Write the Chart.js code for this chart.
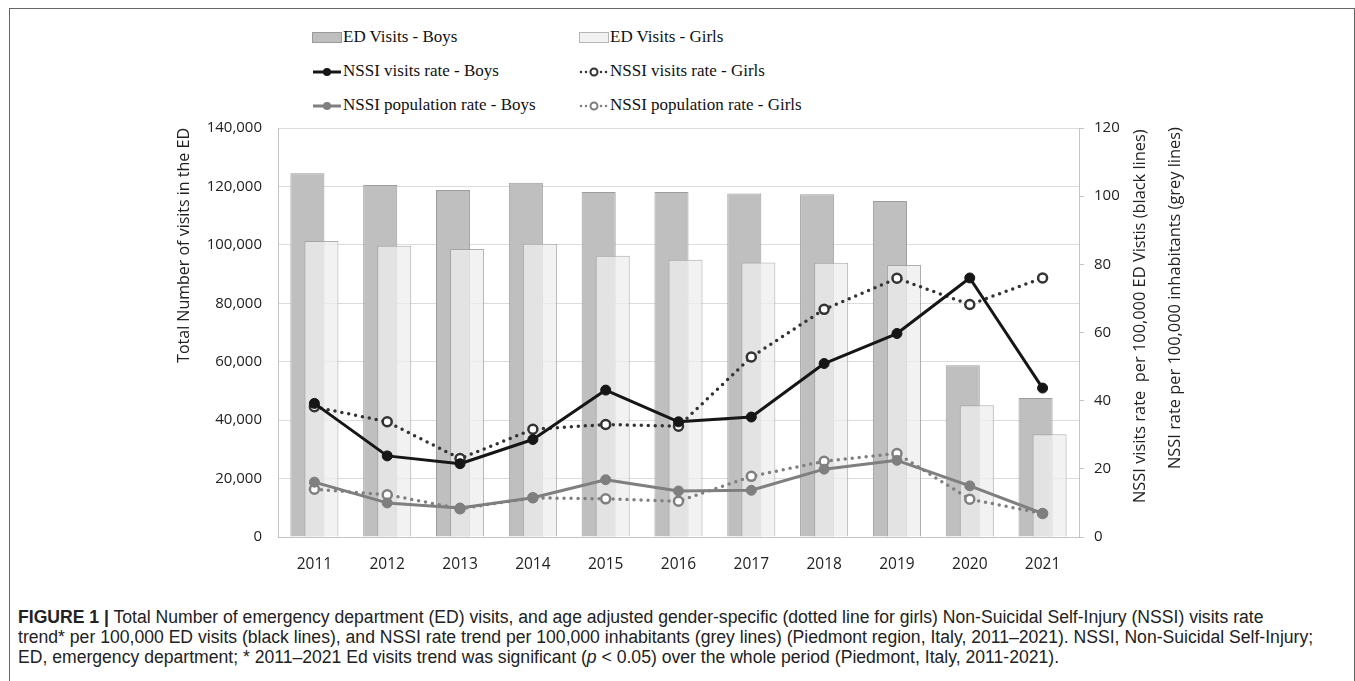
<!DOCTYPE html>
<html>
<head>
<meta charset="utf-8">
<script src="https://cdn.jsdelivr.net/npm/chart.js@4.4.1/dist/chart.umd.min.js"></script>
<style>
  body { margin: 0; background: #fff; width: 1355px; height: 681px; overflow: hidden; position: relative; font-family: "Open Sans", sans-serif; }
  #frame { position: absolute; left: 9px; top: 8px; width: 1344px; height: 700px; border: 1.5px solid #666; border-bottom: none; }
  #legend { position: absolute; left: 0; top: 0; width: 1355px; height: 120px; font-family: "Liberation Serif", serif; font-size: 17px; color: #111; }
  .item { position: absolute; height: 20px; line-height: 20px; white-space: nowrap; }
  .item svg { position: absolute; left: 0; top: 3px; }
  .item span { position: absolute; left: 31px; top: 0; }
  #box { position: absolute; left: 150px; top: 100px; width: 1100px; height: 490px; }
  #caption { position: absolute; left: 18px; top: 607px; font-family: "Liberation Sans", Arial, sans-serif; font-size: 17.6px; line-height: 20px; color: #222; white-space: nowrap; }
  #caption b { font-weight: bold; }
</style>
</head>
<body>
<div id="frame"></div>
<div id="legend"></div>
<div id="box"><canvas id="chart"></canvas></div>
<div id="caption"><b>FIGURE 1 |</b> Total Number of emergency department (ED) visits, and age adjusted gender-specific (dotted line for girls) Non-Suicidal Self-Injury (NSSI) visits rate<br>trend* per 100,000 ED visits (black lines), and NSSI rate trend per 100,000 inhabitants (grey lines) (Piedmont region, Italy, 2011–2021). NSSI, Non-Suicidal Self-Injury;<br>ED, emergency department; * 2011–2021 Ed visits trend was significant (<i>p</i> &lt; 0.05) over the whole period (Piedmont, Italy, 2011-2021).</div>
<script>
// data
const years = ['2011', '2012', '2013', '2014', '2015', '2016', '2017', '2018', '2019', '2020', '2021'];
const edBoys = [124500, 120500, 118800, 121300, 118100, 118100, 117600, 117300, 115000, 58800, 47600];
const edGirls = [101300, 99700, 98600, 100400, 96300, 94900, 94000, 93900, 93100, 45100, 35200];
const visitsBoys = [39.2, 23.8, 21.5, 28.6, 43.1, 33.8, 35.2, 50.9, 59.7, 76.0, 43.7];
const visitsGirls = [38.2, 33.8, 23.0, 31.6, 33.0, 32.5, 52.8, 66.8, 75.9, 68.2, 76.0];
const popBoys = [16.1, 10.0, 8.5, 11.5, 16.8, 13.5, 13.7, 19.9, 22.5, 15.0, 6.9];
const popGirls = [14.0, 12.4, 8.3, 11.5, 11.2, 10.5, 17.8, 22.2, 24.5, 11.1, 6.9];

const leftTitle = 'Total Number of visits in the ED';
const rightTitles = ['NSSI visits rate  per 100,000 ED Vistis (black lines)', 'NSSI rate per 100,000 inhabitants (grey lines)'];

const BLACK = '#161616';
const DARK = '#333333';
const GREY = '#7f7f7f';

// ---- legend (html) ----
const legendItems = [
    { text: 'ED Visits - Boys', kind: 'bar', fill: '#bfbfbf', stroke: '#9a9a9a', x: 312, y: 27 },
    { text: 'ED Visits - Girls', kind: 'bar', fill: '#f2f2f2', stroke: '#b5b5b5', x: 579, y: 27 },
    { text: 'NSSI visits rate - Boys', kind: 'line', color: BLACK, dotted: false, x: 312, y: 61 },
    { text: 'NSSI visits rate - Girls', kind: 'line', color: DARK, dotted: true, x: 579, y: 61 },
    { text: 'NSSI population rate - Boys', kind: 'line', color: GREY, dotted: false, x: 312, y: 95 },
    { text: 'NSSI population rate - Girls', kind: 'line', color: GREY, dotted: true, x: 579, y: 95 }
];
const legendEl = document.getElementById('legend');
legendEl.innerHTML = legendItems.map(it => {
    let svg;
    if (it.kind === 'bar') {
        svg = `<svg width="30" height="14"><rect x="0.5" y="2.5" width="29" height="10" fill="${it.fill}" stroke="${it.stroke}"/></svg>`;
    } else if (!it.dotted) {
        svg = `<svg width="30" height="14"><line x1="1" y1="8" x2="29" y2="8" stroke="${it.color}" stroke-width="3"/><circle cx="15" cy="8" r="4" fill="${it.color}"/></svg>`;
    } else {
        svg = `<svg width="30" height="14"><line x1="2" y1="8" x2="28" y2="8" stroke="${it.color}" stroke-width="2.5" stroke-dasharray="0 5" stroke-linecap="round"/><circle cx="15" cy="8" r="3.5" fill="#fff" stroke="${it.color}" stroke-width="2"/></svg>`;
    }
    return `<div class="item" style="left:${it.x}px;top:${it.y}px">${svg}<span>${it.text}</span></div>`;
}).join('');

// girls bars are grouped to the right of boys but drawn over them
const girlsOnTop = {
    id: 'girlsOnTop',
    beforeDatasetDraw(chart, args) {
        if (args.index === 1 && !chart.$girlsNow) return false;
    },
    afterDatasetDraw(chart, args) {
        if (args.index === 0) {
            chart.$girlsNow = true;
            chart.getDatasetMeta(1).controller.draw();
            chart.$girlsNow = false;
        }
    }
};

// right axis titles read bottom-to-top like the left one
const rightAxisTitle = {
    id: 'rightAxisTitle',
    afterDraw(chart) {
        const ctx = chart.ctx;
        const area = chart.chartArea;
        const offs = [{ dx: 61, dy: -34 }, { dx: 96, dy: -68 }];
        ctx.save();
        ctx.fillStyle = '#222';
        ctx.font = '16.4px "Open Sans"';
        ctx.textAlign = 'left';
        ctx.textBaseline = 'middle';
        rightTitles.forEach((t, i) => {
            ctx.save();
            ctx.translate(area.right + offs[i].dx, area.bottom + offs[i].dy);
            ctx.rotate(-Math.PI / 2);
            ctx.fillText(t, 0, 0);
            ctx.restore();
        });
        ctx.restore();
    }
};

const lineSet = (label, data, color, dotted, width) => ({
    type: 'line',
    label: label,
    data: data,
    yAxisID: 'y1',
    order: -1,
    borderColor: color,
    borderWidth: width,
    borderDash: dotted ? [0, 7] : [],
    borderCapStyle: 'round',
    borderJoinStyle: 'round',
    tension: 0,
    fill: false,
    pointRadius: dotted ? 4.5 : 5,
    pointBorderWidth: dotted ? 2.5 : 1,
    pointBackgroundColor: dotted ? '#ffffff' : color,
    pointBorderColor: color
});

Chart.defaults.font.family = '"Open Sans", sans-serif';
Chart.defaults.color = '#222';

new Chart(document.getElementById('chart').getContext('2d'), {
    type: 'bar',
    data: {
        labels: years,
        datasets: [
            {
                label: 'ED Visits - Boys',
                data: edBoys,
                backgroundColor: '#bfbfbf',
                borderColor: '#9d9d9d',
                borderWidth: 1,
                categoryPercentage: 0.385,
                barPercentage: 2.43,
                yAxisID: 'y'
            },
            {
                label: 'ED Visits - Girls',
                data: edGirls,
                backgroundColor: 'rgba(238,238,238,0.77)',
                borderColor: 'rgba(160,160,160,0.85)',
                borderWidth: 1,
                categoryPercentage: 0.385,
                barPercentage: 2.43,
                yAxisID: 'y'
            },
            lineSet('NSSI visits rate - Boys', visitsBoys, BLACK, false, 3),
            lineSet('NSSI visits rate - Girls', visitsGirls, DARK, true, 3.5),
            lineSet('NSSI population rate - Boys', popBoys, GREY, false, 3),
            lineSet('NSSI population rate - Girls', popGirls, GREY, true, 3.5)
        ]
    },
    options: {
        responsive: true,
        maintainAspectRatio: false,
        animation: false,
        layout: { padding: { top: 28, left: 0, right: 0, bottom: 0 } },
        plugins: {
            legend: { display: false },
            tooltip: { enabled: false }
        },
        scales: {
            x: {
                grid: { display: false },
                border: { display: true, color: '#c4c4c4' },
                ticks: { font: { size: 15.5 }, padding: 10 },
                afterFit(scale) { scale.height = 53; }
            },
            y: {
                position: 'left',
                min: 0,
                max: 140000,
                ticks: {
                    stepSize: 20000,
                    font: { size: 15 },
                    padding: 16,
                    callback: v => v.toLocaleString('en-US')
                },
                grid: { color: '#dcdcdc', drawTicks: false },
                border: { display: true, color: '#c4c4c4' },
                title: {
                    display: true,
                    text: leftTitle,
                    align: 'end',
                    font: { size: 16 },
                    padding: { top: 25, bottom: 0 }
                },
                afterFit(scale) { scale.width = 128; }
            },
            y1: {
                position: 'right',
                min: 0,
                max: 120,
                ticks: { stepSize: 20, font: { size: 15 }, padding: 10 },
                grid: { drawOnChartArea: false, drawTicks: true, tickLength: 5, color: '#c4c4c4' },
                border: { display: true, color: '#c4c4c4' },
                afterFit(scale) { scale.width = 171; }
            }
        }
    },
    plugins: [girlsOnTop, rightAxisTitle]
});
</script>
</body>
</html>
